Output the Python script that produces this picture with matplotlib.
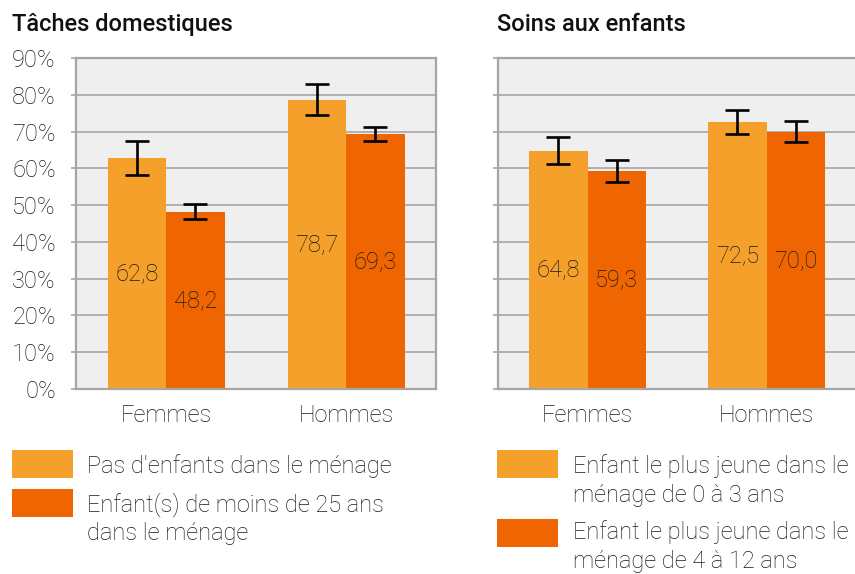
import matplotlib.pyplot as plt
from matplotlib.patches import Rectangle

plt.rcParams['font.family'] = ['Roboto', 'DejaVu Sans']

# Data
groups = ['Femmes', 'Hommes']
titles = ['Tâches domestiques', 'Soins aux enfants']

# panel 1: tâches domestiques
dom_a = [62.8, 78.7]
dom_a_err = [4.5, 4.2]
dom_b = [48.2, 69.3]
dom_b_err = [2.0, 2.0]

# panel 2: soins aux enfants
soins_a = [64.8, 72.5]
soins_a_err = [3.7, 3.3]
soins_b = [59.3, 70.0]
soins_b_err = [2.9, 2.9]

legend_left = ["Pas d'enfants dans le ménage", "Enfant(s) de moins de 25 ans\ndans le ménage"]
legend_right = ["Enfant le plus jeune dans le\nménage de 0 à 3 ans", "Enfant le plus jeune dans le\nménage de 4 à 12 ans"]

yticks = [0, 10, 20, 30, 40, 50, 60, 70, 80, 90]

col_a = '#F5A02A'
col_b = '#EE6502'
bg = '#EFEFEF'
grid_col = '#ABABAB'
txt = '#1A1A1A'
fs = 17

W, H = 855, 574
fig = plt.figure(figsize=(W / 100, H / 100), dpi=100)


def px(x, y):
    return x / W, 1 - y / H


ax1 = fig.add_axes([76 / W, 1 - 389 / H, 360 / W, 331 / H])
ax2 = fig.add_axes([498 / W, 1 - 389 / H, 358 / W, 331 / H])

bw = 0.325
x = range(len(groups))
for ax, a, ae, b, be in [(ax1, dom_a, dom_a_err, dom_b, dom_b_err),
                         (ax2, soins_a, soins_a_err, soins_b, soins_b_err)]:
    ax.set_facecolor(bg)
    ax.set_axisbelow(True)
    ax.yaxis.grid(True, color=grid_col, linewidth=1.3)
    xa = [i - bw / 2 for i in x]
    xb = [i + bw / 2 for i in x]
    ax.bar(xa, a, bw, color=col_a, zorder=2)
    ax.bar(xb, b, bw, color=col_b, zorder=2)
    ax.errorbar(xa, a, yerr=ae, fmt='none', ecolor='black', elinewidth=1.9,
                capsize=8.5, capthick=1.9, zorder=3)
    ax.errorbar(xb, b, yerr=be, fmt='none', ecolor='black', elinewidth=1.9,
                capsize=8.5, capthick=1.9, zorder=3)
    for xs, vals in [(xa, a), (xb, b)]:
        for xi, v in zip(xs, vals):
            ax.text(xi, v / 2, f'{v:.1f}'.replace('.', ','), ha='center', va='center',
                    fontsize=fs, color=txt, fontweight='light', zorder=4)
    ax.set_xlim(-0.5, 1.5)
    ax.set_ylim(0, 90)
    ax.set_yticks(yticks)
    ax.set_xticks(list(x))
    ax.set_xticklabels(groups, fontsize=fs, color=txt, fontweight='light')
    ax.tick_params(axis='x', length=0, pad=11)
    ax.tick_params(axis='y', length=3.5, color=grid_col, width=1.3, pad=11)
    for s in ax.spines.values():
        s.set_color('#A5A5A5')
        s.set_linewidth(1.6)

ax1.set_yticklabels([f'{t}%' for t in yticks], fontsize=fs, color=txt, fontweight='light')
ax2.set_yticklabels([])

# titles
fig.text(*px(12, 31), titles[0], fontsize=17, fontweight='medium', color='#111111', va='baseline')
fig.text(*px(497, 31), titles[1], fontsize=17, fontweight='medium', color='#111111', va='baseline')


# legends
def draw_legend(x0, tx, items):
    # items: (patch top, color, text, first baseline)
    for top, color, label, base in items:
        fig.add_artist(Rectangle(px(x0, top + 28), 61 / W, 28 / H,
                                 transform=fig.transFigure, color=color, linewidth=0))
        for k, line in enumerate(label.split('\n')):
            fig.text(*px(tx, base + 29 * k), line, fontsize=fs, color=txt,
                     fontweight='light', va='baseline')


draw_legend(12, 87, [(450, col_a, legend_left[0], 473), (489, col_b, legend_left[1], 511)])
draw_legend(497, 573, [(450, col_a, legend_right[0], 473), (519, col_b, legend_right[1], 539)])

fig.savefig('out.png', dpi=100)
